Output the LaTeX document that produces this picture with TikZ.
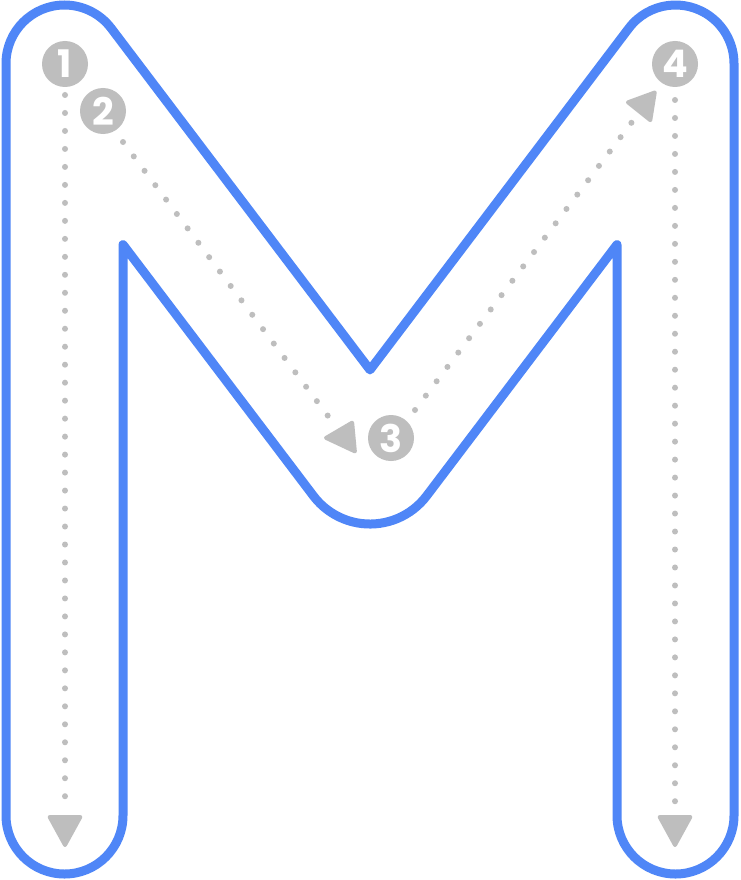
\documentclass[tikz,border=0pt]{standalone}
\usepackage{fontspec}
\newfontfamily\numfont{Poppins}
\definecolor{mblue}{RGB}{79,134,247}
\definecolor{mgray}{RGB}{190,190,190}
\begin{document}
\begin{tikzpicture}[x=1pt,y=-1pt,
  outline/.style={draw=mblue,line width=9pt,line join=round},
  numc/.style={circle,fill=mgray,minimum size=46pt,inner sep=0pt,text=white,font=\numfont\bfseries\fontsize{38}{38}\selectfont},
  dotline/.style={mgray,line width=6pt,line cap=round,dash pattern=on 0pt off 17.98pt},
  arrowhead/.style={fill=mgray,draw=mgray,line width=2pt,line join=round,rounded corners=2pt}]
\useasboundingbox (0,0) rectangle (740,880);
\fill[white] (0,0) rectangle (740,880);
% outline of the letter M
\path[outline] (6,815.5) -- (6,63.5) arc[start angle=180, end angle=322.85, radius=58.5]
  -- (370,369.9) -- (628.87,28.18) arc[start angle=217.15, end angle=360, radius=58.5]
  -- (734,815.5) arc[start angle=0, end angle=180, radius=58.5]
  -- (617,244.6) -- (426.6,495.9) arc[start angle=37.15, end angle=142.85, radius=71]
  -- (123,244.6) -- (123,815.5) arc[start angle=0, end angle=180, radius=58.5] -- cycle;
% numbered circles
\node[numc] (n1) at (65,64) {1};
\node[numc] (n2) at (103,111) {2};
\node[numc] (n3) at (391,438) {3};
\node[numc] (n4) at (675,64) {4};
% end points of the guide lines
\coordinate (s1) at (65,95);
\coordinate (e1) at (65,813);
\coordinate (s2) at (123,142);
\coordinate (e2) at (328,416);
\coordinate (s3) at (415,410);
\coordinate (e3) at (632,122);
\coordinate (s4) at (675,100);
\coordinate (e4) at (675,803);
\draw[dotline] (s1) -- (e1);
\draw[dotline] (s2) -- (e2);
\draw[dotline] (s3) -- (e3);
\draw[dotline] (s4) -- (e4);
% arrowheads
\draw[arrowhead] (48,816) -- (82,816) -- (65,847) -- cycle;
\draw[arrowhead] (658,816) -- (692,816) -- (675,847) -- cycle;
\draw[arrowhead] (324,438) -- (353,421) -- (356,453) -- cycle;
\draw[arrowhead] (626,102) -- (656,91) -- (651,122) -- cycle;
\end{tikzpicture}
\end{document}
